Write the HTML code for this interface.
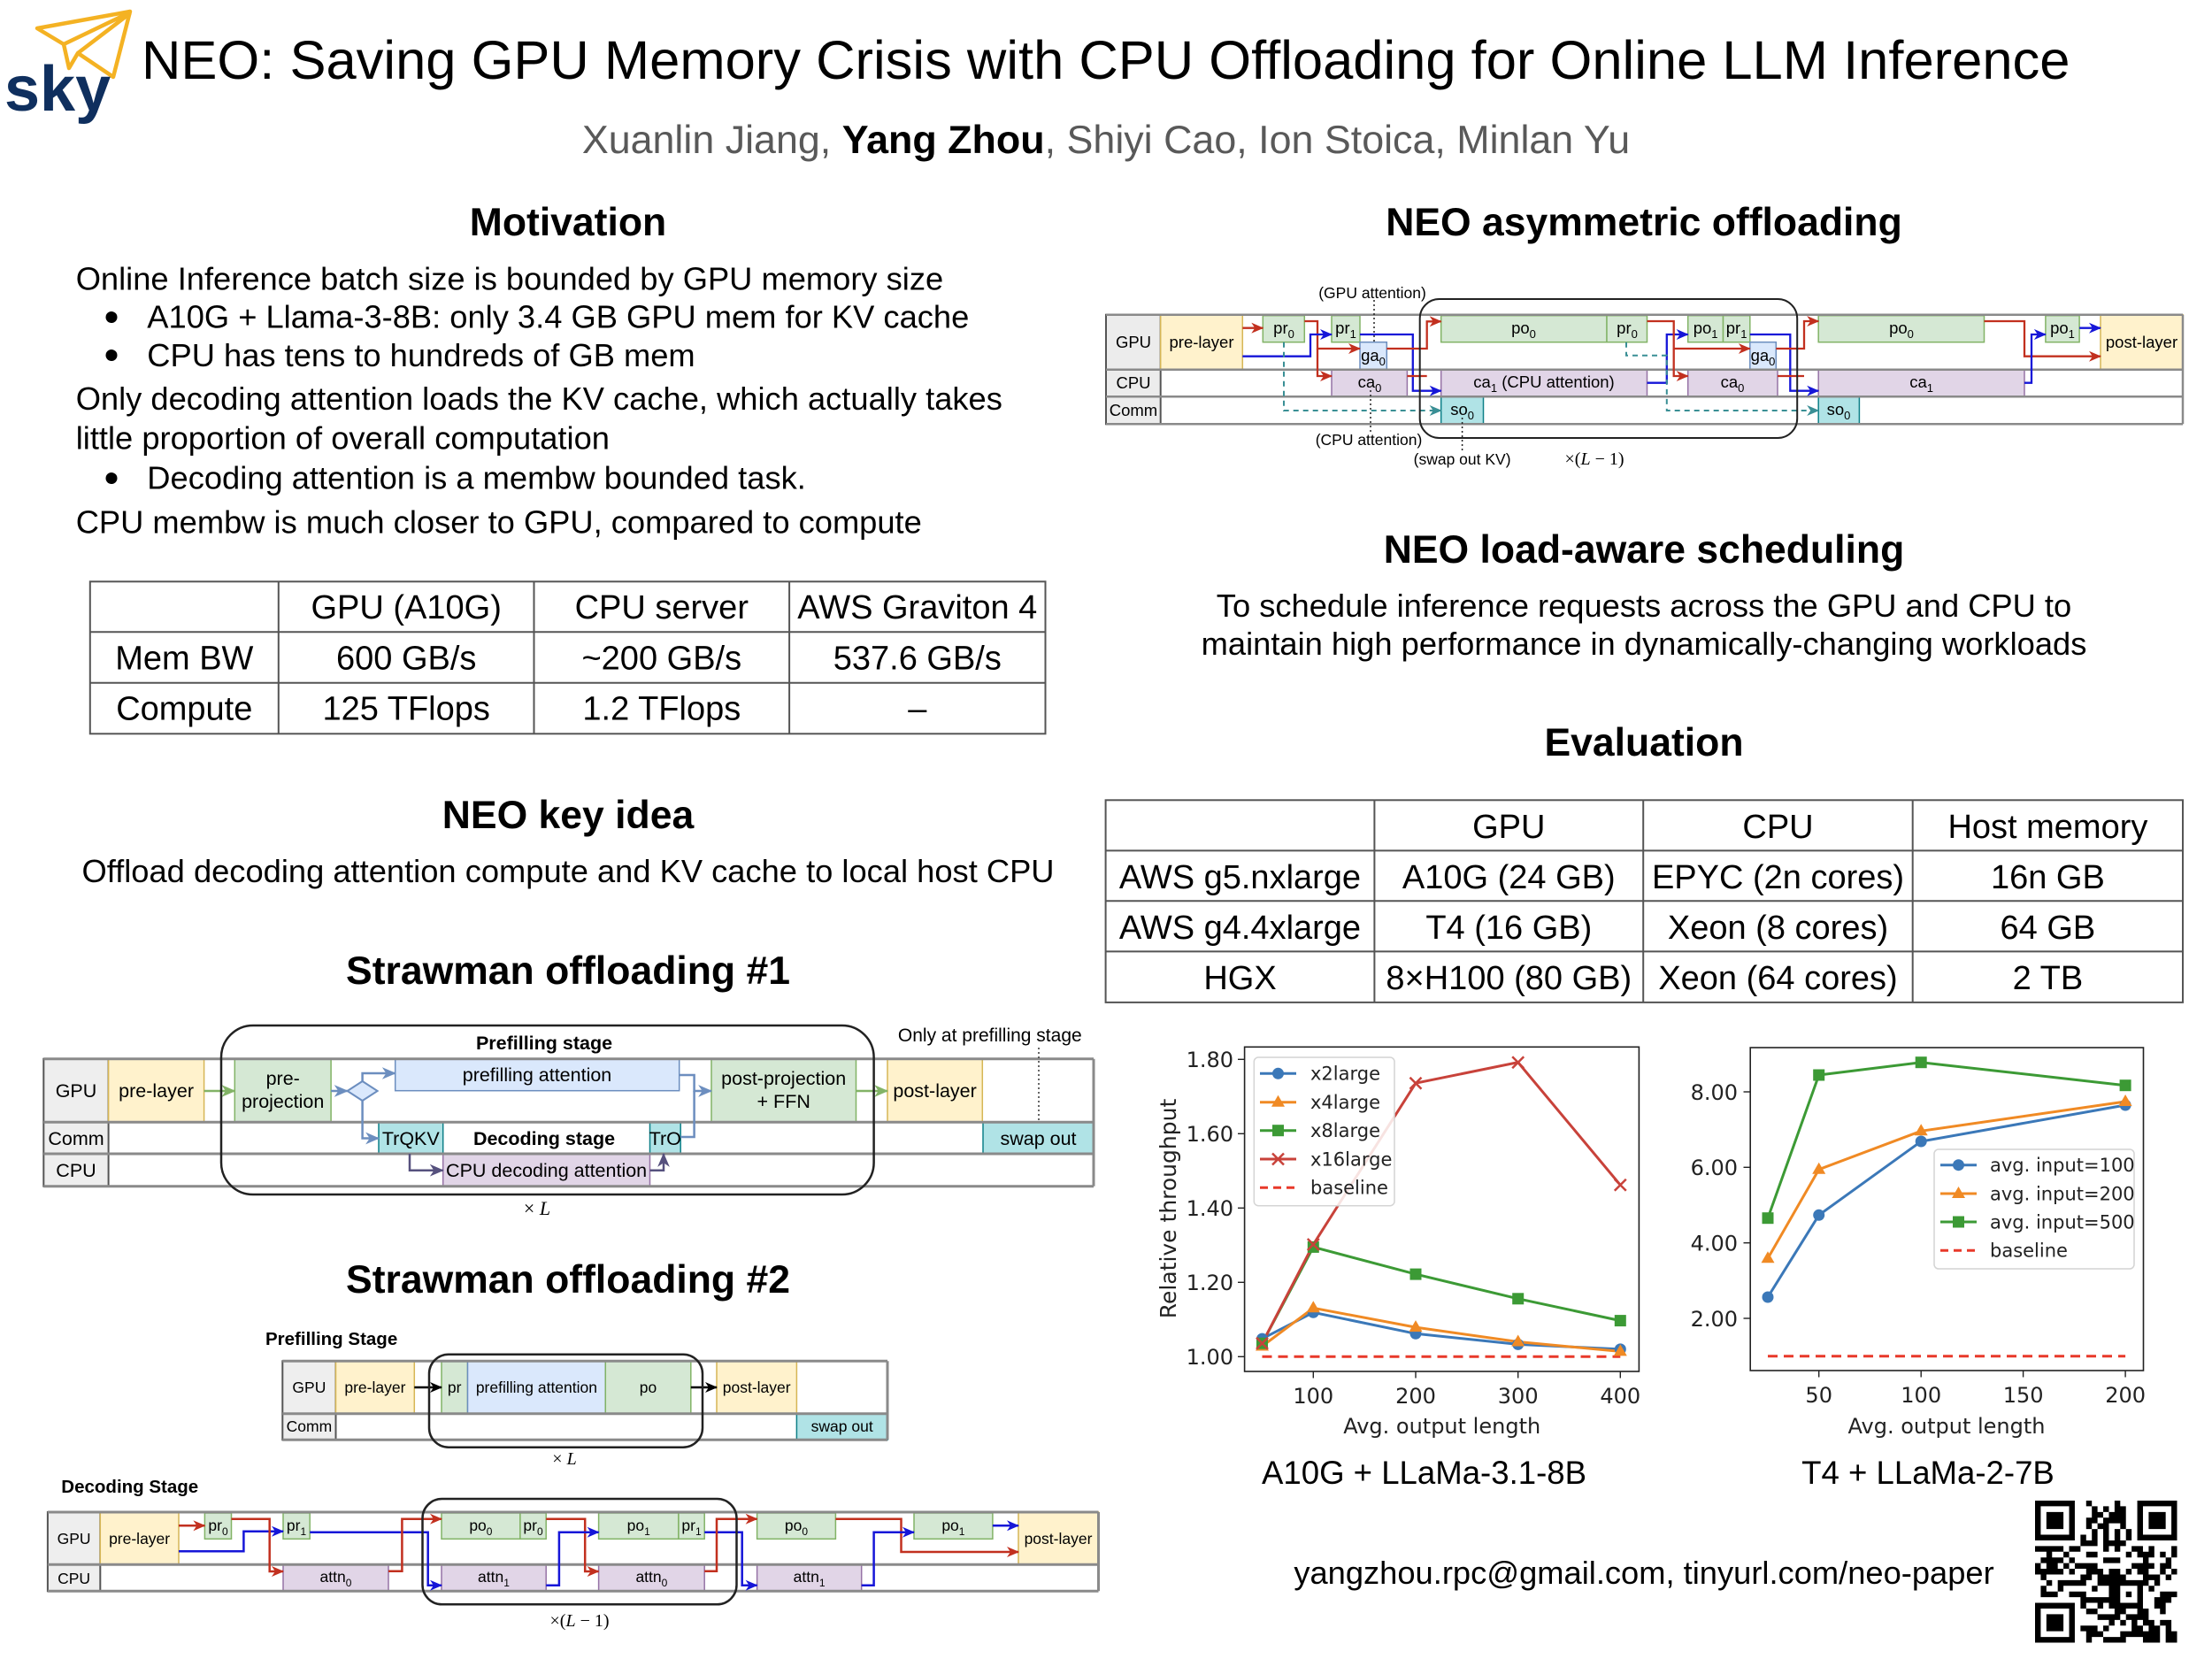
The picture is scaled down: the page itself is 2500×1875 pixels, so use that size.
<!DOCTYPE html>
<html><head><meta charset="utf-8"><title>NEO poster</title>
<style>
html,body{margin:0;padding:0;background:#fff;}
svg{display:block;}
.h{font-weight:bold;font-size:44.5px;text-anchor:middle;}
.b{font-size:36.3px;}
.t{font-size:38px;text-anchor:middle;}
.d{font-size:18.5px;text-anchor:middle;}
.s1{font-size:21.5px;text-anchor:middle;}
.s2{font-size:17.5px;text-anchor:middle;}
.ax{font-family:"DejaVu Sans",sans-serif;font-size:24px;fill:#222;}
.lg{font-family:"DejaVu Sans",sans-serif;font-size:21px;fill:#222;}
</style></head>
<body>
<svg xmlns="http://www.w3.org/2000/svg" width="2500" height="1875" viewBox="0 0 2500 1875" font-family="'Liberation Sans', Arial, sans-serif">
<defs>
<marker id="mR" markerUnits="userSpaceOnUse" markerWidth="14" markerHeight="14" viewBox="0 0 14 14" refX="13" refY="7" orient="auto"><path d="M0,1 L14,7 L0,13 L4,7 Z" fill="#c2301f"/></marker>
<marker id="mB" markerUnits="userSpaceOnUse" markerWidth="14" markerHeight="14" viewBox="0 0 14 14" refX="13" refY="7" orient="auto"><path d="M0,1 L14,7 L0,13 L4,7 Z" fill="#1616d8"/></marker>
<marker id="mT" markerUnits="userSpaceOnUse" markerWidth="14" markerHeight="14" viewBox="0 0 14 14" refX="13" refY="7" orient="auto"><path d="M0,1 L14,7 L0,13 L4,7 Z" fill="#3a8f95"/></marker>
<marker id="mK" markerUnits="userSpaceOnUse" markerWidth="14" markerHeight="14" viewBox="0 0 14 14" refX="13" refY="7" orient="auto"><path d="M0,1 L14,7 L0,13 L4,7 Z" fill="#000"/></marker>
<marker id="mG" markerUnits="userSpaceOnUse" markerWidth="16" markerHeight="16" viewBox="0 0 14 14" refX="13" refY="7" orient="auto"><path d="M0,1 L14,7 L0,13 L4,7 Z" fill="#82b366"/></marker>
<marker id="mS" markerUnits="userSpaceOnUse" markerWidth="16" markerHeight="16" viewBox="0 0 14 14" refX="13" refY="7" orient="auto"><path d="M0,1 L14,7 L0,13 L4,7 Z" fill="#6c8ebf"/></marker>
<marker id="mP" markerUnits="userSpaceOnUse" markerWidth="16" markerHeight="16" viewBox="0 0 14 14" refX="13" refY="7" orient="auto"><path d="M0,1 L14,7 L0,13 L4,7 Z" fill="#56517e"/></marker>
<circle id="ci" r="6.5"/>
<path id="tri" d="M0,-8 L7.5,5 L-7.5,5Z"/>
<rect id="sq" x="-6.5" y="-6.5" width="13" height="13"/>
<path id="xx" d="M-6.5,-6.5L6.5,6.5M-6.5,6.5L6.5,-6.5" fill="none" stroke-width="2.5"/>
</defs>
<rect width="2500" height="1875" fill="#fff"/>

<!-- LOGO -->
<g fill="none" stroke="#f4b223" stroke-width="4.5" stroke-linejoin="round">
<path d="M42,32 L147,13 L128,87 L88,60 L78,77 L72,50 Z"/>
<path d="M72,50 L147,14 M88,60 L147,15"/>
</g>
<text x="5" y="125" font-size="72" font-weight="bold" fill="#0f2f5e">sky</text>

<!-- TITLE -->
<text x="160" y="89" font-size="61.5">NEO: Saving GPU Memory Crisis with CPU Offloading for Online LLM Inference</text>
<text x="1250" y="173" font-size="44.8" text-anchor="middle" fill="#595959">Xuanlin Jiang, <tspan font-weight="bold" fill="#000">Yang Zhou</tspan>, Shiyi Cao, Ion Stoica, Minlan Yu</text>

<!-- MOTIVATION -->
<text class="h" x="642" y="266">Motivation</text>
<g class="b">
<text x="85.7" y="327.5">Online Inference batch size is bounded by GPU memory size</text>
<text x="166.3" y="370.5">A10G + Llama-3-8B: only 3.4 GB GPU mem for KV cache</text>
<text x="166.3" y="414">CPU has tens to hundreds of GB mem</text>
<text x="85.7" y="463">Only decoding attention loads the KV cache, which actually takes</text>
<text x="85.7" y="507.5">little proportion of overall computation</text>
<text x="166.3" y="552.5">Decoding attention is a membw bounded task.</text>
<text x="85.7" y="602.5">CPU membw is much closer to GPU, compared to compute</text>
</g>
<circle cx="126" cy="358.5" r="6.5"/>
<circle cx="126" cy="401.5" r="6.5"/>
<circle cx="126" cy="540.5" r="6.5"/>

<!-- MOTIVATION TABLE -->
<g stroke="#555" stroke-width="2" fill="none">
<rect x="101.8" y="657.3" width="1079.7" height="172"/>
<line x1="101.8" y1="714.3" x2="1181.5" y2="714.3"/>
<line x1="101.8" y1="771.7" x2="1181.5" y2="771.7"/>
<line x1="314.8" y1="657.3" x2="314.8" y2="829.3"/>
<line x1="603.5" y1="657.3" x2="603.5" y2="829.3"/>
<line x1="892.1" y1="657.3" x2="892.1" y2="829.3"/>
</g>
<g class="t">
<text x="459.2" y="699">GPU (A10G)</text><text x="747.8" y="699">CPU server</text><text x="1036.8" y="699">AWS Graviton 4</text>
<text x="208.3" y="756.7">Mem BW</text><text x="459.2" y="756.7">600 GB/s</text><text x="747.8" y="756.7">~200 GB/s</text><text x="1036.8" y="756.7">537.6 GB/s</text>
<text x="208.3" y="813.3">Compute</text><text x="459.2" y="813.3">125 TFlops</text><text x="747.8" y="813.3">1.2 TFlops</text><text x="1036.8" y="813.3">–</text>
</g>

<!-- KEY IDEA -->
<text class="h" x="642" y="936">NEO key idea</text>
<text class="b" x="642" y="997" text-anchor="middle">Offload decoding attention compute and KV cache to local host CPU</text>

<!-- STRAWMAN 1 -->
<text class="h" x="642" y="1112">Strawman offloading #1</text>
<g stroke="#555" stroke-width="2">
<rect x="49.3" y="1196.7" width="73.3" height="144" fill="#eeeeee"/>
</g>
<rect x="122.6" y="1196.7" width="108" height="71.6" fill="#fff2cc" stroke="#d6b656" stroke-width="1.5"/>
<rect x="265.3" y="1196.7" width="108.8" height="71.6" fill="#d5e8d4" stroke="#82b366" stroke-width="1.5"/>
<rect x="446.7" y="1196.7" width="321" height="36" fill="#dae8fc" stroke="#6c8ebf" stroke-width="1.5"/>
<rect x="804" y="1196.7" width="163.5" height="71.6" fill="#d5e8d4" stroke="#82b366" stroke-width="1.5"/>
<rect x="1003" y="1196.7" width="107.3" height="71.6" fill="#fff2cc" stroke="#d6b656" stroke-width="1.5"/>
<rect x="428" y="1268.3" width="72.7" height="35.7" fill="#b0e3e6" stroke="#0e8088" stroke-width="1.5"/>
<rect x="734.5" y="1268.3" width="34.7" height="35.7" fill="#b0e3e6" stroke="#0e8088" stroke-width="1.5"/>
<rect x="1111" y="1268.3" width="125" height="35.7" fill="#b0e3e6" stroke="#0e8088" stroke-width="1.5"/>
<rect x="500.7" y="1304" width="233.8" height="36.7" fill="#e1d5e7" stroke="#9673a6" stroke-width="1.5"/>
<g stroke="#8a8a8a" stroke-width="3">
<line x1="49.3" y1="1196.7" x2="1236" y2="1196.7"/>
<line x1="49.3" y1="1268.3" x2="1236" y2="1268.3"/>
<line x1="49.3" y1="1304" x2="1236" y2="1304"/>
<line x1="49.3" y1="1340.7" x2="1236" y2="1340.7"/>
<line x1="1236" y1="1196.7" x2="1236" y2="1340.7"/>
</g>
<path d="M392.6,1233 L409.6,1222 L426.6,1233 L409.6,1244 Z" fill="#dae8fc" stroke="#6c8ebf" stroke-width="2"/>
<g fill="none" stroke-width="2.5">
<path d="M230.6,1233 H265.3" stroke="#82b366" marker-end="url(#mG)"/>
<path d="M374.1,1233 H392.6" stroke="#6c8ebf" marker-end="url(#mS)"/>
<path d="M409.6,1222 V1213 H446.7" stroke="#6c8ebf" marker-end="url(#mS)"/>
<path d="M409.6,1244 V1286.5 H428" stroke="#6c8ebf" marker-end="url(#mS)"/>
<path d="M767.7,1215 H784.6 V1233 H804" stroke="#6c8ebf" marker-end="url(#mS)"/>
<path d="M769.2,1285 H784.6 V1233" stroke="#6c8ebf"/>
<path d="M463,1304 V1322.7 H500.7" stroke="#56517e" marker-end="url(#mP)"/>
<path d="M734.5,1322.7 H750 V1304" stroke="#56517e" marker-end="url(#mP)"/>
<path d="M967.5,1233 H1003" stroke="#82b366" marker-end="url(#mG)"/>
<path d="M1174,1184 V1268" stroke="#333" stroke-width="1.5" stroke-dasharray="2,3"/>
</g>
<rect x="250" y="1159" width="737.6" height="191" rx="36" fill="none" stroke="#222" stroke-width="2.5"/>
<g class="s1">
<text x="86" y="1240">GPU</text><text x="86" y="1294">Comm</text><text x="86" y="1330">CPU</text>
<text x="176.6" y="1240">pre-layer</text>
<text x="319.7" y="1226">pre-</text><text x="319.7" y="1252">projection</text>
<text x="607" y="1222">prefilling attention</text>
<text x="885.7" y="1226">post-projection</text><text x="885.7" y="1252">+ FFN</text>
<text x="1056.6" y="1240">post-layer</text>
<text x="464.3" y="1294">TrQKV</text>
<text x="751.8" y="1294">TrO</text>
<text x="615" y="1294" font-weight="bold">Decoding stage</text>
<text x="617.6" y="1330">CPU decoding attention</text>
<text x="1173.5" y="1294">swap out</text>
<text x="615" y="1186" font-weight="bold">Prefilling stage</text>
<text x="1118.8" y="1177" font-size="21">Only at prefilling stage</text>
</g>
<text x="607" y="1373" font-size="22" text-anchor="middle" font-family="'Liberation Serif', serif">× <tspan font-style="italic">L</tspan></text>

<!-- STRAWMAN 2 -->
<text class="h" x="642" y="1461">Strawman offloading #2</text>
<text x="300" y="1520" font-size="20.5" font-weight="bold">Prefilling Stage</text>
<rect x="319.3" y="1538.3" width="60.2" height="89" fill="#eeeeee" stroke="#555" stroke-width="2"/>
<rect x="379.5" y="1538.3" width="88.8" height="59.4" fill="#fff2cc" stroke="#d6b656" stroke-width="1.5"/>
<rect x="499" y="1538.3" width="29.5" height="59.4" fill="#d5e8d4" stroke="#82b366" stroke-width="1.5"/>
<rect x="528.5" y="1538.3" width="155.8" height="59.4" fill="#dae8fc" stroke="#6c8ebf" stroke-width="1.5"/>
<rect x="684.3" y="1538.3" width="96.5" height="59.4" fill="#d5e8d4" stroke="#82b366" stroke-width="1.5"/>
<rect x="810" y="1538.3" width="90.4" height="59.4" fill="#fff2cc" stroke="#d6b656" stroke-width="1.5"/>
<rect x="900.4" y="1597.7" width="102.6" height="29.6" fill="#b0e3e6" stroke="#0e8088" stroke-width="1.5"/>
<g stroke="#8a8a8a" stroke-width="3">
<line x1="319.3" y1="1538.3" x2="1003" y2="1538.3"/>
<line x1="319.3" y1="1597.7" x2="1003" y2="1597.7"/>
<line x1="319.3" y1="1627.3" x2="1003" y2="1627.3"/>
<line x1="1003" y1="1538.3" x2="1003" y2="1627.3"/>
</g>
<g fill="none" stroke="#000" stroke-width="2.5">
<path d="M468.3,1568 H499" marker-end="url(#mK)"/>
<path d="M780.8,1568 H810" marker-end="url(#mK)"/>
</g>
<rect x="485" y="1530.7" width="309" height="105" rx="22" fill="none" stroke="#222" stroke-width="2.5"/>
<g class="s2">
<text x="349.4" y="1574">GPU</text><text x="349.4" y="1618">Comm</text>
<text x="423.9" y="1574">pre-layer</text>
<text x="513.7" y="1574">pr</text>
<text x="606.4" y="1574">prefilling attention</text>
<text x="732.5" y="1574">po</text>
<text x="855.2" y="1574">post-layer</text>
<text x="951.7" y="1618">swap out</text>
</g>
<text x="638" y="1655" font-size="20" text-anchor="middle" font-family="'Liberation Serif', serif">× <tspan font-style="italic">L</tspan></text>

<text x="69.3" y="1687" font-size="20.5" font-weight="bold">Decoding Stage</text>
<rect x="53.9" y="1709" width="59.4" height="89.3" fill="#eeeeee" stroke="#555" stroke-width="2"/>
<rect x="113.3" y="1709" width="88.7" height="59.3" fill="#fff2cc" stroke="#d6b656" stroke-width="1.5"/>
<rect x="1151" y="1709" width="90.5" height="59.3" fill="#fff2cc" stroke="#d6b656" stroke-width="1.5"/>
<g fill="#d5e8d4" stroke="#82b366" stroke-width="1.5">
<rect x="231.4" y="1710" width="30.1" height="29.3"/>
<rect x="320" y="1710" width="30.2" height="29.3"/>
<rect x="499" y="1710" width="88.9" height="29.3"/>
<rect x="587.9" y="1710" width="29.3" height="29.3"/>
<rect x="676.6" y="1710" width="90.3" height="29.3"/>
<rect x="766.9" y="1710" width="29.3" height="29.3"/>
<rect x="855.6" y="1710" width="88.8" height="29.3"/>
<rect x="1033" y="1710" width="88.9" height="29.3"/>
</g>
<g fill="#e1d5e7" stroke="#9673a6" stroke-width="1.5">
<rect x="320" y="1768.3" width="119" height="30"/>
<rect x="499" y="1768.3" width="118.2" height="30"/>
<rect x="676.6" y="1768.3" width="119.6" height="30"/>
<rect x="855.6" y="1768.3" width="118.1" height="30"/>
</g>
<g stroke="#8a8a8a" stroke-width="3">
<line x1="53.9" y1="1709" x2="1241.5" y2="1709"/>
<line x1="53.9" y1="1768.3" x2="1241.5" y2="1768.3"/>
<line x1="53.9" y1="1798.3" x2="1241.5" y2="1798.3"/>
<line x1="1241.5" y1="1709" x2="1241.5" y2="1798.3"/>
</g>
<g fill="none" stroke-width="2.5">
<path d="M202,1724.3 H231.4" stroke="#c2301f" marker-end="url(#mR)"/>
<path d="M202,1753.3 H275.4 V1730.7 H320" stroke="#1616d8" marker-end="url(#mB)"/>
<path d="M261.5,1716.7 H304.7 V1776 H320" stroke="#c2301f" marker-end="url(#mR)"/>
<path d="M350.2,1731.7 H483.7 V1791.7 H499" stroke="#1616d8" marker-end="url(#mB)"/>
<path d="M439,1775.7 H454.4 V1716.7 H499" stroke="#c2301f" marker-end="url(#mR)"/>
<path d="M617.2,1716.7 H661.2 V1776 H676.6" stroke="#c2301f" marker-end="url(#mR)"/>
<path d="M617.2,1791.7 H631.9 V1731.7 H676.6" stroke="#1616d8" marker-end="url(#mB)"/>
<path d="M796.2,1731.7 H838.7 V1791.7 H855.6" stroke="#1616d8" marker-end="url(#mB)"/>
<path d="M796.2,1775.7 H810 V1716.7 H855.6" stroke="#c2301f" marker-end="url(#mR)"/>
<path d="M944.4,1716.7 H1018.5 V1754 H1151" stroke="#c2301f" marker-end="url(#mR)"/>
<path d="M973.7,1791.7 H987.6 V1731.7 H1033" stroke="#1616d8" marker-end="url(#mB)"/>
<path d="M1121.9,1724.3 H1151" stroke="#1616d8" marker-end="url(#mB)"/>
</g>
<rect x="477.5" y="1694" width="355" height="119.3" rx="22" fill="none" stroke="#222" stroke-width="2.5"/>
<g class="s2">
<text x="83.6" y="1745">GPU</text><text x="83.6" y="1790">CPU</text>
<text x="157.6" y="1745">pre-layer</text>
<text x="1196" y="1745">post-layer</text>
<text x="246.5" y="1730">pr<tspan font-size="12" dy="5">0</tspan></text>
<text x="335" y="1730">pr<tspan font-size="12" dy="5">1</tspan></text>
<text x="543.4" y="1730">po<tspan font-size="12" dy="5">0</tspan></text>
<text x="602.5" y="1730">pr<tspan font-size="12" dy="5">0</tspan></text>
<text x="721.7" y="1730">po<tspan font-size="12" dy="5">1</tspan></text>
<text x="781.5" y="1730">pr<tspan font-size="12" dy="5">1</tspan></text>
<text x="900" y="1730">po<tspan font-size="12" dy="5">0</tspan></text>
<text x="1077.4" y="1730">po<tspan font-size="12" dy="5">1</tspan></text>
<text x="379.5" y="1788">attn<tspan font-size="12" dy="5">0</tspan></text>
<text x="558" y="1788">attn<tspan font-size="12" dy="5">1</tspan></text>
<text x="736.4" y="1788">attn<tspan font-size="12" dy="5">0</tspan></text>
<text x="914.6" y="1788">attn<tspan font-size="12" dy="5">1</tspan></text>
</g>
<text x="655" y="1838" font-size="20" text-anchor="middle" font-family="'Liberation Serif', serif">×(<tspan font-style="italic">L</tspan> − 1)</text>

<!-- RIGHT: ASYMMETRIC OFFLOADING -->
<text class="h" x="1858" y="266">NEO asymmetric offloading</text>
<rect x="1250" y="355.7" width="61.7" height="123.6" fill="#ececec" stroke="#555" stroke-width="2"/>
<rect x="1311.7" y="355.7" width="92.6" height="62" fill="#fff2cc" stroke="#d6b656" stroke-width="1.5"/>
<rect x="2374" y="355.7" width="93" height="62" fill="#fff2cc" stroke="#d6b656" stroke-width="1.5"/>
<g fill="#d5e8d4" stroke="#82b366" stroke-width="1.5">
<rect x="1427.3" y="356.7" width="47" height="30"/>
<rect x="1505" y="356.7" width="32" height="30"/>
<rect x="1628.7" y="356.7" width="187.3" height="30"/>
<rect x="1816" y="356.7" width="45.5" height="30"/>
<rect x="1907.7" y="356.7" width="39.8" height="30"/>
<rect x="1947.5" y="356.7" width="30.3" height="30"/>
<rect x="2055.2" y="356.7" width="187.3" height="30"/>
<rect x="2311.9" y="356.7" width="38.2" height="30"/>
</g>
<g fill="#dae8fc" stroke="#6c8ebf" stroke-width="1.5">
<rect x="1537" y="386.7" width="30.3" height="31"/>
<rect x="1977.8" y="386.7" width="29.5" height="31"/>
</g>
<g fill="#e1d5e7" stroke="#9673a6" stroke-width="1.5">
<rect x="1505" y="417.7" width="85.4" height="30.6"/>
<rect x="1628.7" y="417.7" width="232.8" height="30.6"/>
<rect x="1907.7" y="417.7" width="101.3" height="30.6"/>
<rect x="2055.2" y="417.7" width="232.8" height="30.6"/>
</g>
<g fill="#b0e3e6" stroke="#0e8088" stroke-width="1.5">
<rect x="1628.7" y="448.3" width="47.8" height="31"/>
<rect x="2055.2" y="448.3" width="46.2" height="31"/>
</g>
<g stroke="#8a8a8a" stroke-width="2.5">
<line x1="1250" y1="355.7" x2="2467" y2="355.7"/>
<line x1="1250" y1="417.7" x2="2467" y2="417.7"/>
<line x1="1250" y1="448.3" x2="2467" y2="448.3"/>
<line x1="1250" y1="479.3" x2="2467" y2="479.3"/>
<line x1="2467" y1="355.7" x2="2467" y2="479.3"/>
</g>
<g fill="none" stroke-width="2.3">
<path d="M1404.3,370.7 H1427.3" stroke="#c2301f" marker-end="url(#mR)"/>
<path d="M1474.3,363 H1489 V394 H1537" stroke="#c2301f" marker-end="url(#mR)"/>
<path d="M1489,394 V425 H1505" stroke="#c2301f" marker-end="url(#mR)"/>
<path d="M1404.3,402.7 H1481 V378 H1505" stroke="#1616d8" marker-end="url(#mB)"/>
<path d="M1537,378 H1596.8 V441.7 H1628.7" stroke="#1616d8" marker-end="url(#mB)"/>
<path d="M1567.3,394 H1612.7 V363.3 H1628.7" stroke="#c2301f" marker-end="url(#mR)"/>
<path d="M1590.4,425 H1612.7" stroke="#c2301f"/>
<path d="M1861.5,432.7 H1883.8 V378 H1907.7" stroke="#1616d8" marker-end="url(#mB)"/>
<path d="M1861.5,363 H1891.7 V394 H1977.8" stroke="#c2301f" marker-end="url(#mR)"/>
<path d="M1891.7,394 V425 H1907.7" stroke="#c2301f" marker-end="url(#mR)"/>
<path d="M1977.8,378 H2023.3 V441.7 H2055.2" stroke="#1616d8" marker-end="url(#mB)"/>
<path d="M2007.3,394 H2039 V363 H2055.2" stroke="#c2301f" marker-end="url(#mR)"/>
<path d="M2009,425 H2039" stroke="#c2301f"/>
<path d="M2242.5,363 H2288 V402.7 H2374" stroke="#c2301f" marker-end="url(#mR)"/>
<path d="M2288,432.7 H2296 V378 H2311.9" stroke="#1616d8" marker-end="url(#mB)"/>
<path d="M2350.1,370.7 H2374" stroke="#1616d8" marker-end="url(#mB)"/>
<path d="M1451,386.7 V464 H1628.7" stroke="#3a8f95" stroke-width="2" stroke-dasharray="6,5" marker-end="url(#mT)"/>
<path d="M1838,386.7 V401.7 H1883.8 V464 H2055.2" stroke="#3a8f95" stroke-width="2" stroke-dasharray="6,5" marker-end="url(#mT)"/>
<path d="M1553,339 V386" stroke="#222" stroke-width="1.5" stroke-dasharray="2,3"/>
<path d="M1549,441 V491" stroke="#222" stroke-width="1.5" stroke-dasharray="2,3"/>
<path d="M1652.6,472 V512" stroke="#222" stroke-width="1.5" stroke-dasharray="2,3"/>
</g>
<rect x="1604.7" y="338" width="426.5" height="157" rx="22" fill="none" stroke="#222" stroke-width="2"/>
<g class="d">
<text x="1281" y="393">GPU</text><text x="1281" y="439">CPU</text><text x="1281" y="470">Comm</text>
<text x="1358" y="393">pre-layer</text>
<text x="2420.5" y="393">post-layer</text>
<text x="1451" y="377">pr<tspan font-size="13" dy="5">0</tspan></text>
<text x="1521" y="377">pr<tspan font-size="13" dy="5">1</tspan></text>
<text x="1552" y="408">ga<tspan font-size="13" dy="5">0</tspan></text>
<text x="1548" y="438">ca<tspan font-size="13" dy="5">0</tspan></text>
<text x="1722" y="377">po<tspan font-size="13" dy="5">0</tspan></text>
<text x="1839" y="377">pr<tspan font-size="13" dy="5">0</tspan></text>
<text x="1745" y="438">ca<tspan font-size="13" dy="5">1</tspan><tspan dy="-5"> (CPU attention)</tspan></text>
<text x="1652.6" y="469">so<tspan font-size="13" dy="5">0</tspan></text>
<text x="1927.6" y="377">po<tspan font-size="13" dy="5">1</tspan></text>
<text x="1962.6" y="377">pr<tspan font-size="13" dy="5">1</tspan></text>
<text x="1992.5" y="408">ga<tspan font-size="13" dy="5">0</tspan></text>
<text x="1958" y="438">ca<tspan font-size="13" dy="5">0</tspan></text>
<text x="2149" y="377">po<tspan font-size="13" dy="5">0</tspan></text>
<text x="2171.6" y="438">ca<tspan font-size="13" dy="5">1</tspan></text>
<text x="2078" y="469">so<tspan font-size="13" dy="5">0</tspan></text>
<text x="2331" y="377">po<tspan font-size="13" dy="5">1</tspan></text>
<text x="1551" y="337" font-size="17.5">(GPU attention)</text>
<text x="1547" y="503" font-size="17.5">(CPU attention)</text>
<text x="1652.6" y="525" font-size="17.5">(swap out KV)</text>
</g>
<text x="1802" y="525" font-size="20" text-anchor="middle" font-family="'Liberation Serif', serif">×(<tspan font-style="italic">L</tspan> − 1)</text>

<!-- LOAD-AWARE SCHEDULING -->
<text class="h" x="1858" y="636">NEO load-aware scheduling</text>
<text class="b" x="1858" y="697" text-anchor="middle">To schedule inference requests across the GPU and CPU to</text>
<text class="b" x="1858" y="740" text-anchor="middle">maintain high performance in dynamically-changing workloads</text>

<!-- EVALUATION -->
<text class="h" x="1858" y="854">Evaluation</text>
<g stroke="#555" stroke-width="2" fill="none">
<rect x="1249.6" y="904.3" width="1217.4" height="228.6"/>
<line x1="1249.6" y1="961.4" x2="2467" y2="961.4"/>
<line x1="1249.6" y1="1018.2" x2="2467" y2="1018.2"/>
<line x1="1249.6" y1="1075.4" x2="2467" y2="1075.4"/>
<line x1="1553.4" y1="904.3" x2="1553.4" y2="1132.9"/>
<line x1="1857.2" y1="904.3" x2="1857.2" y2="1132.9"/>
<line x1="2161.7" y1="904.3" x2="2161.7" y2="1132.9"/>
</g>
<g class="t">
<text x="1705.3" y="947">GPU</text><text x="2009.5" y="947">CPU</text><text x="2314.4" y="947">Host memory</text>
<text x="1401.5" y="1004">AWS g5.nxlarge</text><text x="1705.3" y="1004">A10G (24 GB)</text><text x="2009.5" y="1004">EPYC (2n cores)</text><text x="2314.4" y="1004">16n GB</text>
<text x="1401.5" y="1061">AWS g4.4xlarge</text><text x="1705.3" y="1061">T4 (16 GB)</text><text x="2009.5" y="1061">Xeon (8 cores)</text><text x="2314.4" y="1061">64 GB</text>
<text x="1401.5" y="1118">HGX</text><text x="1705.3" y="1118">8×H100 (80 GB)</text><text x="2009.5" y="1118">Xeon (64 cores)</text><text x="2314.4" y="1118">2 TB</text>
</g>

<!-- CHART LEFT -->
<rect x="1406.6" y="1183.3" width="445.8" height="366.7" fill="none" stroke="#222" stroke-width="1.6"/>
<g stroke="#222" stroke-width="1.4">
<line x1="1399" y1="1197.3" x2="1406.6" y2="1197.3"/><line x1="1399" y1="1281.3" x2="1406.6" y2="1281.3"/>
<line x1="1399" y1="1365.3" x2="1406.6" y2="1365.3"/><line x1="1399" y1="1449.3" x2="1406.6" y2="1449.3"/>
<line x1="1399" y1="1533.3" x2="1406.6" y2="1533.3"/>
<line x1="1484.3" y1="1550" x2="1484.3" y2="1557.5"/><line x1="1600" y1="1550" x2="1600" y2="1557.5"/>
<line x1="1715.7" y1="1550" x2="1715.7" y2="1557.5"/><line x1="1831.3" y1="1550" x2="1831.3" y2="1557.5"/>
</g>
<g class="ax" text-anchor="end">
<text x="1394" y="1206">1.80</text><text x="1394" y="1290">1.60</text><text x="1394" y="1374">1.40</text><text x="1394" y="1458">1.20</text><text x="1394" y="1542">1.00</text>
</g>
<g class="ax" text-anchor="middle">
<text x="1484.3" y="1586">100</text><text x="1600" y="1586">200</text><text x="1715.7" y="1586">300</text><text x="1831.3" y="1586">400</text>
<text x="1629.7" y="1620">Avg. output length</text>
<text transform="translate(1329,1366) rotate(-90)" font-size="25">Relative throughput</text>
</g>
<g fill="none" stroke-width="3">
<polyline stroke="#3b78b8" points="1426.5,1513.1 1484.3,1483.3 1600,1507.3 1715.7,1519.4 1831.3,1524.9"/>
<polyline stroke="#f08a24" points="1426.5,1521.5 1484.3,1478.3 1600,1500.1 1715.7,1516.5 1831.3,1527.4"/>
<polyline stroke="#3c9a35" points="1426.5,1518.2 1484.3,1409.4 1600,1440.1 1715.7,1467.8 1831.3,1492.6"/>
<polyline stroke="#c8423a" points="1426.5,1518.2 1484.3,1406.5 1600,1224.2 1715.7,1200.7 1831.3,1339.3"/>
<line x1="1426.5" y1="1533.3" x2="1831.3" y2="1533.3" stroke="#e8392a" stroke-dasharray="11,7"/>
</g>
<g fill="#3b78b8"><use href="#ci" x="1426.5" y="1513.1"/><use href="#ci" x="1484.3" y="1483.3"/><use href="#ci" x="1600" y="1507.3"/><use href="#ci" x="1715.7" y="1519.4"/><use href="#ci" x="1831.3" y="1524.9"/></g>
<g fill="#f08a24"><use href="#tri" x="1426.5" y="1521.5"/><use href="#tri" x="1484.3" y="1478.3"/><use href="#tri" x="1600" y="1500.1"/><use href="#tri" x="1715.7" y="1516.5"/><use href="#tri" x="1831.3" y="1527.4"/></g>
<g fill="#3c9a35"><use href="#sq" x="1426.5" y="1518.2"/><use href="#sq" x="1484.3" y="1409.4"/><use href="#sq" x="1600" y="1440.1"/><use href="#sq" x="1715.7" y="1467.8"/><use href="#sq" x="1831.3" y="1492.6"/></g>
<g stroke="#c8423a"><use href="#xx" x="1426.5" y="1518.2"/><use href="#xx" x="1484.3" y="1406.5"/><use href="#xx" x="1600" y="1224.2"/><use href="#xx" x="1715.7" y="1200.7"/><use href="#xx" x="1831.3" y="1339.3"/></g>
<rect x="1417.3" y="1195" width="158.7" height="167.7" rx="5" fill="#fff" fill-opacity="0.85" stroke="#d4d4d4" stroke-width="1.5"/>
<g stroke-width="3">
<line x1="1424" y1="1213.3" x2="1465" y2="1213.3" stroke="#3b78b8"/><use href="#ci" x="1444.5" y="1213.3" fill="#3b78b8"/>
<line x1="1424" y1="1245.7" x2="1465" y2="1245.7" stroke="#f08a24"/><use href="#tri" x="1444.5" y="1245.7" fill="#f08a24"/>
<line x1="1424" y1="1277.7" x2="1465" y2="1277.7" stroke="#3c9a35"/><use href="#sq" x="1444.5" y="1277.7" fill="#3c9a35"/>
<line x1="1424" y1="1310" x2="1465" y2="1310" stroke="#c8423a"/><use href="#xx" x="1444.5" y="1310" stroke="#c8423a"/>
<line x1="1424" y1="1342.3" x2="1465" y2="1342.3" stroke="#e8392a" stroke-dasharray="9,6"/>
</g>
<g class="lg">
<text x="1481" y="1220.5">x2large</text><text x="1481" y="1253">x4large</text><text x="1481" y="1285">x8large</text><text x="1481" y="1317.3">x16large</text><text x="1481" y="1349.6">baseline</text>
</g>
<text x="1609.5" y="1677" font-size="36.6" text-anchor="middle">A10G + LLaMa-3.1-8B</text>

<!-- CHART RIGHT -->
<rect x="1978.2" y="1184" width="444.3" height="365" fill="none" stroke="#222" stroke-width="1.6"/>
<g stroke="#222" stroke-width="1.4">
<line x1="1970.5" y1="1234" x2="1978.2" y2="1234"/><line x1="1970.5" y1="1319.3" x2="1978.2" y2="1319.3"/>
<line x1="1970.5" y1="1404.7" x2="1978.2" y2="1404.7"/><line x1="1970.5" y1="1490" x2="1978.2" y2="1490"/>
<line x1="2055.7" y1="1549" x2="2055.7" y2="1556.5"/><line x1="2171.2" y1="1549" x2="2171.2" y2="1556.5"/>
<line x1="2286.6" y1="1549" x2="2286.6" y2="1556.5"/><line x1="2402.1" y1="1549" x2="2402.1" y2="1556.5"/>
</g>
<g class="ax" text-anchor="end">
<text x="1964" y="1243">8.00</text><text x="1964" y="1328">6.00</text><text x="1964" y="1413.5">4.00</text><text x="1964" y="1499">2.00</text>
</g>
<g class="ax" text-anchor="middle">
<text x="2055.7" y="1585">50</text><text x="2171.2" y="1585">100</text><text x="2286.6" y="1585">150</text><text x="2402.1" y="1585">200</text>
<text x="2200" y="1620">Avg. output length</text>
</g>
<g fill="none" stroke-width="3">
<polyline stroke="#3b78b8" points="1998,1466 2055.7,1373.3 2171.2,1290 2402.1,1249"/>
<polyline stroke="#f08a24" points="1998,1422.3 2055.7,1321.7 2171.2,1278.3 2402.1,1245"/>
<polyline stroke="#3c9a35" points="1998,1376.7 2055.7,1215 2171.2,1200.7 2402.1,1226.7"/>
<line x1="1998" y1="1532.7" x2="2402.1" y2="1532.7" stroke="#e8392a" stroke-dasharray="11,7"/>
</g>
<g fill="#3b78b8"><use href="#ci" x="1998" y="1466"/><use href="#ci" x="2055.7" y="1373.3"/><use href="#ci" x="2171.2" y="1290"/><use href="#ci" x="2402.1" y="1249"/></g>
<g fill="#f08a24"><use href="#tri" x="1998" y="1422.3"/><use href="#tri" x="2055.7" y="1321.7"/><use href="#tri" x="2171.2" y="1278.3"/><use href="#tri" x="2402.1" y="1245"/></g>
<g fill="#3c9a35"><use href="#sq" x="1998" y="1376.7"/><use href="#sq" x="2055.7" y="1215"/><use href="#sq" x="2171.2" y="1200.7"/><use href="#sq" x="2402.1" y="1226.7"/></g>
<rect x="2186" y="1299" width="226" height="135" rx="5" fill="#fff" fill-opacity="0.85" stroke="#d4d4d4" stroke-width="1.5"/>
<g stroke-width="3">
<line x1="2193" y1="1316.7" x2="2234" y2="1316.7" stroke="#3b78b8"/><use href="#ci" x="2213.5" y="1316.7" fill="#3b78b8"/>
<line x1="2193" y1="1349" x2="2234" y2="1349" stroke="#f08a24"/><use href="#tri" x="2213.5" y="1349" fill="#f08a24"/>
<line x1="2193" y1="1381" x2="2234" y2="1381" stroke="#3c9a35"/><use href="#sq" x="2213.5" y="1381" fill="#3c9a35"/>
<line x1="2193" y1="1413.3" x2="2234" y2="1413.3" stroke="#e8392a" stroke-dasharray="9,6"/>
</g>
<g class="lg">
<text x="2249" y="1324">avg. input=100</text><text x="2249" y="1356.3">avg. input=200</text><text x="2249" y="1388.3">avg. input=500</text><text x="2249" y="1420.6">baseline</text>
</g>
<text x="2179" y="1677" font-size="36.6" text-anchor="middle">T4 + LLaMa-2-7B</text>

<!-- FOOTER -->
<text class="b" x="1858" y="1790" text-anchor="middle">yangzhou.rpc@gmail.com, tinyurl.com/neo-paper</text>
<path id="qr" fill="#000" d=""/>
</svg>
<script>
(function(){
var N=25,m=6.42,x0=2300,y0=1696,g=[],i,j;
for(i=0;i<N;i++){g.push([]);for(j=0;j<N;j++)g[i].push(-1);}
function finder(r,c){for(var a=-1;a<8;a++)for(var b=-1;b<8;b++){var rr=r+a,cc=c+b;if(rr<0||cc<0||rr>=N||cc>=N)continue;
var v=0;if(a>=0&&a<=6&&b>=0&&b<=6){v=(a==0||a==6||b==0||b==6||(a>=2&&a<=4&&b>=2&&b<=4))?1:0;}g[rr][cc]=v;}}
finder(0,0);finder(0,18);finder(18,0);
for(i=8;i<17;i++){g[6][i]=(i%2==0)?1:0;g[i][6]=(i%2==0)?1:0;}
for(i=-2;i<=2;i++)for(j=-2;j<=2;j++){g[16+i][16+j]=(Math.max(Math.abs(i),Math.abs(j))!=1)?1:0;}
var s=12345;function rnd(){s=(s*1103515245+12345)%2147483648;return s/2147483648;}
var d="";
for(i=0;i<N;i++)for(j=0;j<N;j++){var v=g[i][j];if(v<0)v=rnd()<0.5?1:0;
if(v)d+="M"+(x0+j*m).toFixed(2)+","+(y0+i*m).toFixed(2)+"h"+m+"v"+m+"h-"+m+"z";}
document.getElementById("qr").setAttribute("d",d);
})();
</script>
</body></html>
